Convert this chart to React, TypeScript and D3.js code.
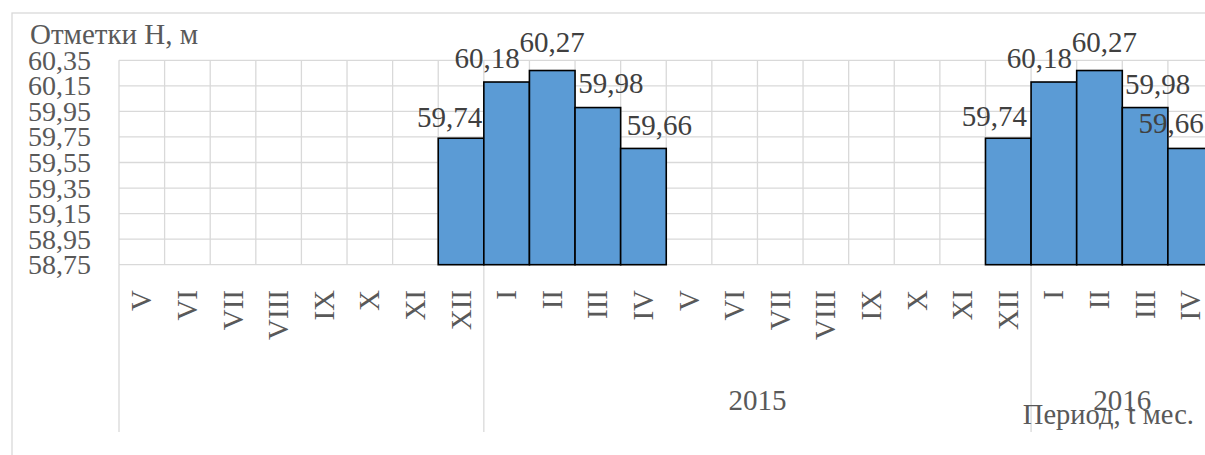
import React, { useRef, useEffect } from "react";
import { select, scaleBand, scaleLinear, format } from "d3";

// months along the axis (two seasons)
const months = [
    "V", "VI", "VII", "VIII", "IX", "X", "XI", "XII",
    "I", "II", "III", "IV",
    "V", "VI", "VII", "VIII", "IX", "X", "XI", "XII",
    "I", "II", "III", "IV"
];

// water level marks, m (null = no bar)
const levels = [
    null, null, null, null, null, null, null, 59.74,
    60.18, 60.27, 59.98, 59.66,
    null, null, null, null, null, null, null, 59.74,
    60.18, 60.27, 59.98, 59.66
];

// second tier of the category axis
const years = ["", "2015", "2016"];
const yearSpans = [8, 12, 4];

const yTicks = [58.75, 58.95, 59.15, 59.35, 59.55, 59.75, 59.95, 60.15, 60.35];

// manual nudges of the data labels (as in the source chart), px
const labelDx = [-11.5, -19.5, 0, 13, 16, -14, -14.5, 5, 12.5, -19.5];
const labelDy = [-11.5, -13.7, -18.8, -15, -13.4, -12.2, -13.7, -18.8, -13.3, -15];

const FONT = "'Liberation Serif', 'Times New Roman', serif";
const TEXT = "#595959";
const GRID = "#d9d9d9";

function App() {
    const svgRef = useRef(null);

    useEffect(() => {
        const svg = select(svgRef.current);
        svg.selectAll("*").remove();

        const xScale = scaleBand()
            .domain(months.map((m, i) => i))
            .range([119, 1213.5])
            .padding(0);

        const yScale = scaleLinear()
            .domain([58.75, 60.35])
            .range([264.7, 60.3]);

        const fmt = v => format(".2f")(v).replace(".", ",");
        const bw = xScale.bandwidth();
        const [left, right] = xScale.range();
        const bottom = yScale(58.75);

        // chart frame
        svg.append("rect")
            .attr("x", 12)
            .attr("y", 13)
            .attr("width", 1210)
            .attr("height", 470)
            .attr("fill", "none")
            .attr("stroke", GRID)
            .attr("stroke-width", 1.3);

        // horizontal gridlines
        svg.append("g")
            .selectAll("line")
            .data(yTicks)
            .join("line")
            .attr("x1", left)
            .attr("x2", right)
            .attr("y1", d => yScale(d))
            .attr("y2", d => yScale(d))
            .attr("stroke", GRID)
            .attr("stroke-width", 1.3);

        // vertical gridlines at every month boundary
        const edges = months.map((m, i) => xScale(i)).concat(right);
        svg.append("g")
            .selectAll("line")
            .data(edges)
            .join("line")
            .attr("x1", d => d)
            .attr("x2", d => d)
            .attr("y1", yScale(60.35))
            .attr("y2", bottom)
            .attr("stroke", GRID)
            .attr("stroke-width", 1.3);

        // year group dividers below the axis
        let acc = 0;
        const groups = years.map((label, k) => {
            const start = acc;
            acc += yearSpans[k];
            return { label, start, end: acc };
        });
        svg.append("g")
            .selectAll("line")
            .data(groups)
            .join("line")
            .attr("x1", d => xScale(d.start))
            .attr("x2", d => xScale(d.start))
            .attr("y1", bottom)
            .attr("y2", 432)
            .attr("stroke", GRID)
            .attr("stroke-width", 1.3);

        // bars
        const bars = levels
            .map((v, i) => ({ v, i }))
            .filter(d => d.v !== null);

        svg.append("g")
            .selectAll("rect")
            .data(bars)
            .join("rect")
            .attr("x", d => xScale(d.i))
            .attr("y", d => yScale(d.v))
            .attr("width", bw)
            .attr("height", d => bottom - yScale(d.v))
            .attr("fill", "#5b9bd5")
            .attr("stroke", "#000")
            .attr("stroke-width", 1.6);

        // data labels
        svg.append("g")
            .selectAll("text")
            .data(bars)
            .join("text")
            .attr("x", (d, k) => xScale(d.i) + bw / 2 + labelDx[k])
            .attr("y", (d, k) => yScale(d.v) + labelDy[k])
            .attr("text-anchor", "middle")
            .attr("font-family", FONT)
            .attr("font-size", 29)
            .attr("fill", "#404040")
            .text(d => fmt(d.v));

        // y tick labels
        svg.append("g")
            .selectAll("text")
            .data(yTicks)
            .join("text")
            .attr("x", 91)
            .attr("y", d => yScale(d) + 9.5)
            .attr("text-anchor", "end")
            .attr("font-family", FONT)
            .attr("font-size", 28)
            .attr("fill", TEXT)
            .text(fmt);

        // month labels, rotated
        svg.append("g")
            .selectAll("text")
            .data(months)
            .join("text")
            .attr("transform", (d, i) => `translate(${xScale(i) + bw / 2},290) rotate(-90)`)
            .attr("dy", "0.33em")
            .attr("text-anchor", "end")
            .attr("font-family", FONT)
            .attr("font-size", 29)
            .attr("fill", TEXT)
            .text(d => d);

        // year labels
        svg.append("g")
            .selectAll("text")
            .data(groups)
            .join("text")
            .attr("x", d => (xScale(d.start) + (d.end < months.length ? xScale(d.end) : right)) / 2)
            .attr("y", 409.5)
            .attr("text-anchor", "middle")
            .attr("font-family", FONT)
            .attr("font-size", 29)
            .attr("fill", TEXT)
            .text(d => d.label);

        // axis titles
        svg.append("text")
            .attr("x", 30)
            .attr("y", 43.5)
            .attr("font-family", FONT)
            .attr("font-size", 29)
            .attr("fill", TEXT)
            .text("Отметки Н, м");

        svg.append("text")
            .attr("x", 1194)
            .attr("y", 423.5)
            .attr("text-anchor", "end")
            .attr("font-family", FONT)
            .attr("font-size", 28.5)
            .attr("fill", TEXT)
            .text("Период, t мес.");
    }, []);

    return (
        <svg
            ref={svgRef}
            width={1205}
            height={455}
            style={{ position: "absolute", left: 0, top: 0, background: "#fff" }}
        />
    );
}

export default App;
